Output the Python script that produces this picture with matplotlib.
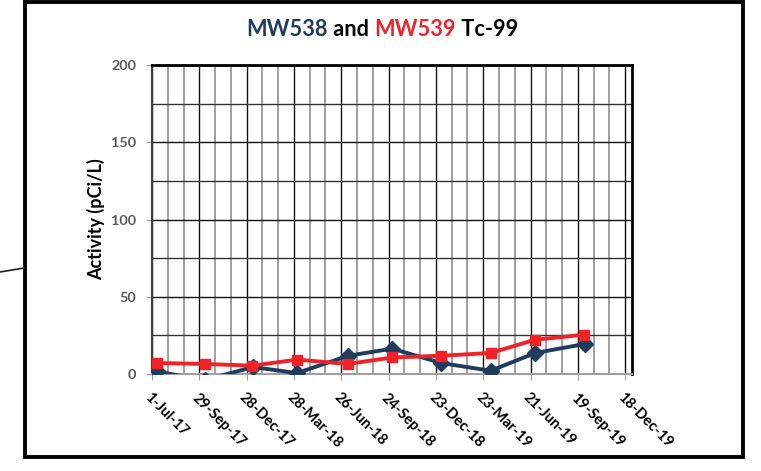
import matplotlib
matplotlib.use("Agg")
import matplotlib.pyplot as plt
from matplotlib.patches import Rectangle
from matplotlib.lines import Line2D
import datetime as dt

plt.rcParams['font.family'] = ['Lato', 'DejaVu Sans']

# ---- data ----
mw538_dates = ["2017-07-10", "2017-10-09", "2018-01-09", "2018-04-03", "2018-07-09",
               "2018-10-01", "2019-01-02", "2019-04-06", "2019-06-30", "2019-10-02"]
mw538_vals = [1.7, -4.0, 4.5, 0.6, 11.8, 16.4, 7.1, 2.1, 13.6, 19.4]
mw539_dates = ["2017-07-11", "2017-10-09", "2018-01-08", "2018-04-03", "2018-07-09",
               "2018-10-01", "2019-01-01", "2019-04-06", "2019-06-30", "2019-10-01"]
mw539_vals = [7.1, 6.5, 5.4, 9.3, 6.5, 10.7, 11.8, 13.6, 22.2, 25.4]
tick_dates = ["2017-07-01", "2017-09-29", "2017-12-28", "2018-03-28", "2018-06-26",
              "2018-09-24", "2018-12-23", "2019-03-23", "2019-06-21", "2019-09-19",
              "2019-12-18"]
tick_labels = ["1-Jul-17", "29-Sep-17", "28-Dec-17", "28-Mar-18", "26-Jun-18",
               "24-Sep-18", "23-Dec-18", "23-Mar-19", "21-Jun-19", "19-Sep-19",
               "18-Dec-19"]
x_min, x_max = "2017-07-01", "2019-12-31"
y_ticks = [0, 50, 100, 150, 200]

to_d = lambda s: dt.datetime.strptime(s, "%Y-%m-%d")

W, H = 761, 471
fig = plt.figure(figsize=(W / 100, H / 100), dpi=100)
ax = fig.add_axes([152 / W, 1 - 374 / H, (632 - 152) / W, (374 - 65) / H])

xmin, xmax = to_d(x_min), to_d(x_max)
ax.set_xlim(xmin, xmax)
ax.set_ylim(0, 200)

# minor / major grid
minor_x = []
d = to_d(tick_dates[0])
while d <= xmax:
    minor_x.append(d)
    d += dt.timedelta(days=30)
ax.set_xticks([to_d(t) for t in tick_dates])
ax.set_xticks(minor_x, minor=True)
ax.set_yticks(y_ticks)
ax.set_yticks(range(0, 201, 25), minor=True)

ax.grid(which='minor', axis='x', color='#A0A0A0', linewidth=1.4, zorder=0)
ax.grid(which='major', axis='x', color='#111111', linewidth=1.0, zorder=0.5)
ax.grid(which='minor', axis='y', color='#333333', linewidth=1.0, zorder=0)
ax.grid(which='major', axis='y', color='#111111', linewidth=1.0, zorder=0.5)
ax.set_axisbelow(True)

ax.plot([to_d(s) for s in mw538_dates], mw538_vals, color='#1F3B5E', linewidth=2.8,
        marker='D', markersize=8.5, zorder=3)
ax.plot([to_d(s) for s in mw539_dates], mw539_vals, color='#EE2227', linewidth=2.8,
        marker='s', markersize=7, zorder=4)

ax.set_xticklabels(tick_labels, rotation=-45, ha='left', va='top',
                   rotation_mode='anchor', fontsize=10.5, fontweight='bold', color='black')
ax.set_yticklabels([str(v) for v in y_ticks], fontsize=10.4, fontweight='bold', color='#595959')
ax.tick_params(axis='x', which='major', length=4, pad=8, color='#A0A0A0')
ax.tick_params(axis='x', which='minor', length=0)
ax.tick_params(axis='y', which='major', length=4, pad=7.5, color='#A0A0A0')
ax.tick_params(axis='y', which='minor', length=0)

ax.set_ylabel("Activity (pCi/L)", fontsize=13, fontweight='bold', labelpad=4)

ax.spines['top'].set_color('black'); ax.spines['top'].set_linewidth(2)
ax.spines['right'].set_color('black'); ax.spines['right'].set_linewidth(2)
ax.spines['left'].set_color('#404040'); ax.spines['left'].set_linewidth(1.5)
ax.spines['bottom'].set_color('#A0A0A0'); ax.spines['bottom'].set_linewidth(1.5)

# multi-coloured title
parts = [("MW538", '#1F3B5E'), (" and ", 'black'), ("MW539", '#EE2227'), (" Tc-99", 'black')]
fig.canvas.draw()
r = fig.canvas.get_renderer()
texts = []
widths = []
for s, c in parts:
    t = fig.text(0, 0, s, fontsize=15.7, fontweight='bold', color=c, va='baseline')
    bb = t.get_window_extent(renderer=r)
    texts.append(t)
    widths.append(bb.width)
total = sum(widths)
x0 = 382 - total / 2
ybase = 1 - 35.5 / H
for t, w in zip(texts, widths):
    t.set_position((x0 / W, ybase))
    x0 += w

# outer border and connector line
fig.patches.append(Rectangle((25 / W, 1 - 457 / H), (743 - 25) / W, (457 - 2) / H,
                             transform=fig.transFigure, fill=False, edgecolor='black',
                             linewidth=2.8))
fig.lines.append(Line2D([0, 24 / W], [1 - 272 / H, 1 - 268 / H], transform=fig.transFigure,
                        color='#222222', linewidth=1.2))

fig.savefig("out.png", dpi=100)
